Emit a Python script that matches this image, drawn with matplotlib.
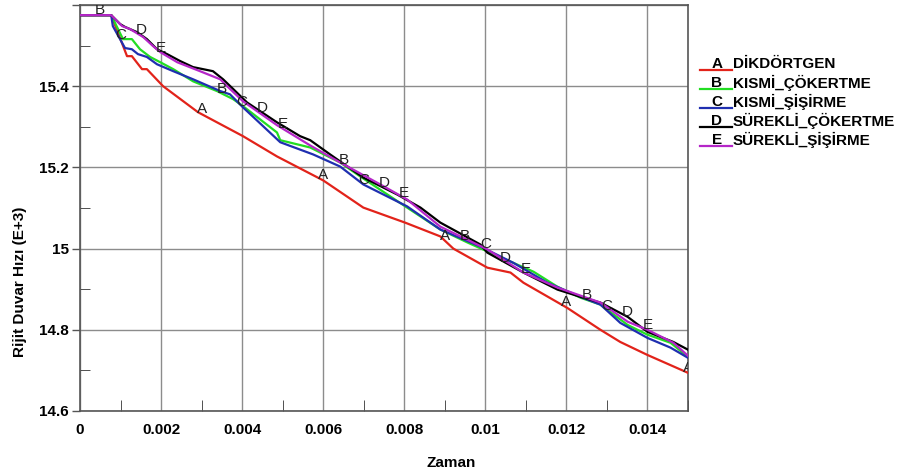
import matplotlib
import numpy as np

matplotlib.use("Agg")
import matplotlib.pyplot as plt
from matplotlib.lines import Line2D
from matplotlib.ticker import MultipleLocator, FuncFormatter

plt.rcParams["font.family"] = ["Liberation Sans", "DejaVu Sans"]

# series data (Zaman, Rijit Duvar Hizi E+3)
a_x = [0, 0.00077, 0.00116, 0.00128, 0.00153, 0.00165, 0.00205, 0.00291, 0.00338, 0.00402,
       0.00486, 0.0060, 0.00699, 0.00802, 0.00889, 0.00921, 0.01005, 0.01062, 0.01094, 0.01202,
       0.01284, 0.01333, 0.0140, 0.0150]
a_y = [15.575, 15.575, 15.474, 15.474, 15.442, 15.442, 15.400, 15.336, 15.311, 15.277,
       15.227, 15.168, 15.101, 15.064, 15.030, 15.000, 14.953, 14.941, 14.916, 14.854,
       14.800, 14.770, 14.738, 14.694]

b_x = [0, 0.00077, 0.00106, 0.00128, 0.00148, 0.00173, 0.00198, 0.0023, 0.00279, 0.00338,
       0.00378, 0.00402, 0.00486, 0.00494, 0.00568, 0.00642, 0.00691, 0.00807, 0.00889, 0.00956,
       0.01005, 0.01119, 0.01178, 0.01235, 0.01284, 0.01351, 0.0140, 0.01457, 0.0150]
b_y = [15.575, 15.575, 15.516, 15.516, 15.491, 15.472, 15.459, 15.442, 15.412, 15.388,
       15.368, 15.351, 15.286, 15.267, 15.249, 15.212, 15.178, 15.101, 15.047, 15.015,
       14.993, 14.943, 14.906, 14.879, 14.862, 14.812, 14.788, 14.768, 14.733]

c_x = [0, 0.00077, 0.00081, 0.00111, 0.00128, 0.00143, 0.00165, 0.0019, 0.0023, 0.00279,
       0.00346, 0.0037, 0.00402, 0.00494, 0.00575, 0.00642, 0.00699, 0.00807, 0.00889, 0.00988,
       0.01069, 0.01153, 0.01235, 0.01284, 0.01333, 0.0140, 0.01457, 0.0150]
c_y = [15.575, 15.575, 15.548, 15.494, 15.491, 15.479, 15.472, 15.454, 15.437, 15.417,
       15.388, 15.380, 15.348, 15.262, 15.232, 15.202, 15.158, 15.104, 15.047, 15.005,
       14.965, 14.916, 14.881, 14.862, 14.817, 14.780, 14.756, 14.731]

d_x = [0, 0.00077, 0.00099, 0.00111, 0.00141, 0.00165, 0.0019, 0.00215, 0.00247, 0.00279,
       0.00328, 0.00353, 0.00378, 0.00412, 0.00486, 0.00543, 0.00568, 0.00617, 0.00699, 0.00783,
       0.0084, 0.00889, 0.00988, 0.01005, 0.01094, 0.01178, 0.01235, 0.01284, 0.01351, 0.0140,
       0.01464, 0.0150]
d_y = [15.575, 15.575, 15.553, 15.546, 15.533, 15.516, 15.491, 15.479, 15.462, 15.447,
       15.437, 15.417, 15.393, 15.360, 15.311, 15.277, 15.267, 15.232, 15.175, 15.133,
       15.101, 15.064, 15.010, 14.990, 14.941, 14.899, 14.881, 14.867, 14.832, 14.795,
       14.770, 14.751]

e_x = [0, 0.00077, 0.00104, 0.00123, 0.00156, 0.0018, 0.00198, 0.0024, 0.00296, 0.00346,
       0.00363, 0.00402, 0.00486, 0.00568, 0.00642, 0.00741, 0.00807, 0.00889, 0.01005, 0.01094,
       0.01178, 0.01284, 0.01351, 0.0140, 0.01464, 0.0150]
e_y = [15.575, 15.575, 15.548, 15.541, 15.521, 15.499, 15.484, 15.459, 15.437, 15.417,
       15.400, 15.363, 15.304, 15.254, 15.212, 15.158, 15.121, 15.054, 14.998, 14.941,
       14.904, 14.867, 14.820, 14.800, 14.768, 14.736]

letters = ["A", "B", "C", "D", "E"]
names = ["DİKDÖRTGEN", "KISMİ_ÇÖKERTME", "KISMİ_ŞİŞİRME", "SÜREKLİ_ÇÖKERTME", "SÜREKLİ_ŞİŞİRME"]
colors = ["#e2231a", "#22dd22", "#1f2fb0", "#000000", "#b526c8"]
series_x = [a_x, b_x, c_x, d_x, e_x]
series_y = [a_y, b_y, c_y, d_y, e_y]

label_step = 0.003
label_shift = 0.0005

fig = plt.figure(figsize=(9.02, 4.74), dpi=100)
ax = fig.add_axes([80 / 902, 1 - 411 / 474, 608 / 902, 406 / 474])

for i in range(5):
    ax.plot(series_x[i], series_y[i], color=colors[i], linewidth=1.6, zorder=3 + i)

for i in range(5):
    xs = np.arange(i * label_shift, 0.0151, label_step)
    for xv in xs:
        if xv <= 0:
            continue
        yv = np.interp(xv, series_x[i], series_y[i])
        ax.annotate(letters[i], (xv, yv), xytext=(0, -1.5), textcoords="offset points",
                    ha="center", va="bottom", fontsize=11, color="#222222", zorder=10,
                    annotation_clip=False, clip_on=True)

ax.set_xlim(0, 0.015)
ax.set_ylim(14.6, 15.6)
ax.xaxis.set_major_locator(MultipleLocator(0.002))
ax.xaxis.set_minor_locator(MultipleLocator(0.001))
ax.yaxis.set_major_locator(MultipleLocator(0.2))
ax.yaxis.set_minor_locator(MultipleLocator(0.1))
ax.xaxis.set_major_formatter(FuncFormatter(lambda v, p: f"{v:g}"))
# top value is left without a label, as in the original
ax.yaxis.set_major_formatter(FuncFormatter(lambda v, p: "" if v > 15.55 else f"{v:g}"))
ax.grid(which="major", color="#8c8c8c", linewidth=1.0)
ax.set_axisbelow(True)
ax.tick_params(axis="x", which="major", length=0, pad=9, labelsize=11)
ax.tick_params(axis="y", which="major", direction="out", length=6, width=1, pad=2,
               labelsize=11, color="#555555")
ax.tick_params(axis="x", which="minor", direction="in", length=8, color="#333333")
ax.tick_params(axis="y", which="minor", direction="in", length=7, color="#333333")
for lab in ax.get_xticklabels() + ax.get_yticklabels():
    lab.set_fontweight("bold")
for sp in ax.spines.values():
    sp.set_color("#555555")
    sp.set_linewidth(1.2)

fig.text(451 / 902, 1 - 463 / 474, "Zaman", ha="center", va="center", fontsize=11, fontweight="bold")
fig.text(20 / 902, 1 - 282 / 474, "Rijit Duvar Hızı (E+3)", ha="center", va="center",
         rotation=90, fontsize=11, fontweight="bold")

# legend drawn by hand, colored underline under each letter
leg_y = [64, 83, 102, 121, 140]
for i in range(5):
    yc = 1 - leg_y[i] / 474
    yl = 1 - (leg_y[i] + 6) / 474
    fig.add_artist(Line2D([700 / 902, 732 / 902], [yl, yl], color=colors[i], linewidth=1.6,
                          transform=fig.transFigure))
    fig.text(717 / 902, yc, letters[i], ha="center", va="center", fontsize=11, fontweight="bold")
    fig.text(733 / 902, yc, names[i], ha="left", va="center", fontsize=11, fontweight="bold")

fig.savefig("out.png", dpi=100)
